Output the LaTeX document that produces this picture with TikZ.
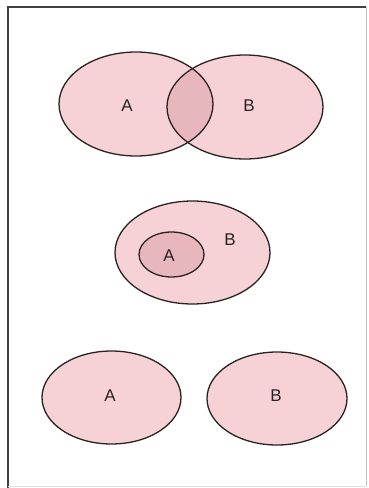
\documentclass[tikz,border=0pt]{standalone}
\usepackage{fontspec}
\setmainfont{Liberation Sans}
\definecolor{pinkfill}{HTML}{F6D2D7}
\definecolor{pinkdark}{HTML}{E8B6BD}
\definecolor{edge}{HTML}{2A2222}
\newcommand{\lblfont}{\fontsize{17}{17}\selectfont}
\begin{document}
\begin{tikzpicture}[x=1pt,y=-1pt,
  setline/.style={draw=edge, line width=1.3pt},
  lbl/.style={text=edge, inner sep=0pt}]
\useasboundingbox (0,0) rectangle (369,488);
\fill[white] (0,0) rectangle (369,488);
% frame
\draw[line width=1.3pt, draw=black!75] (8,488) -- (8,7) -- (366,7);
\draw[line width=0.6pt, draw=black!25] (366,7) -- (366,486);
\draw[line width=0.5pt, draw=black!12] (8,486) -- (366,486);
% top: intersecting sets
\fill[pinkfill] (136,104) ellipse [x radius=77, y radius=52];
\fill[pinkfill] (245,107) ellipse [x radius=78, y radius=52];
\begin{scope}
  \clip (136,104) ellipse [x radius=77, y radius=52];
  \fill[pinkdark] (245,107) ellipse [x radius=78, y radius=52];
\end{scope}
\draw[setline] (136,104) ellipse [x radius=77, y radius=52];
\draw[setline] (245,107) ellipse [x radius=78, y radius=52];
\node[lbl] (a1) at (127,106) {\lblfont A};
\node[lbl] (b1) at (249,106) {\lblfont B};
% middle: subset
\draw[setline, fill=pinkfill] (192.5,252.5) ellipse [x radius=77.5, y radius=51.5];
\draw[setline, fill=pinkdark] (171.5,254.5) ellipse [x radius=32.5, y radius=22.5];
\node[lbl] (a2) at (169,256) {\lblfont A};
\node[lbl] (b2) at (230,240) {\lblfont B};
% bottom: disjoint sets
\draw[setline, fill=pinkfill] (111.5,397.5) ellipse [x radius=69.5, y radius=46.5];
\draw[setline, fill=pinkfill] (277,398.5) ellipse [x radius=70, y radius=46.5];
\node[lbl] (a3) at (110,396) {\lblfont A};
\node[lbl] (b3) at (276,396) {\lblfont B};
\end{tikzpicture}
\end{document}
